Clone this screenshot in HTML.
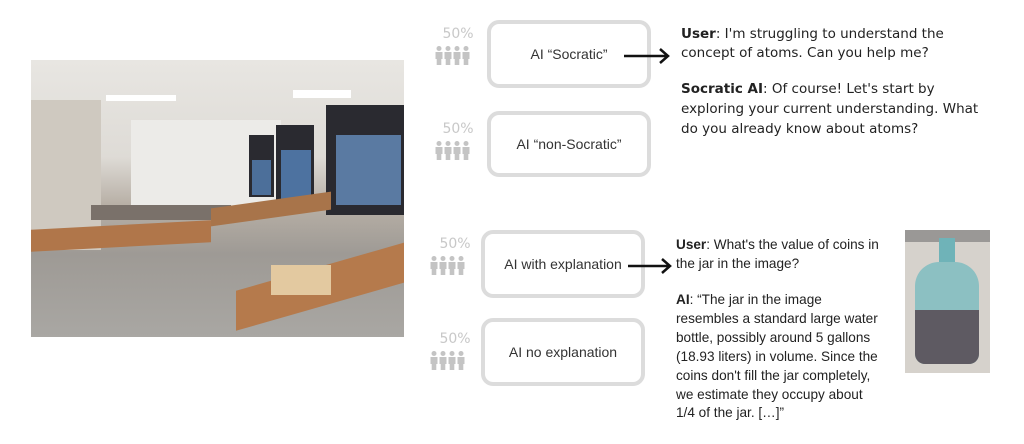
<!DOCTYPE html>
<html><head><meta charset="utf-8"><style>
body{margin:0;width:1024px;height:444px;background:#fff;position:relative;overflow:hidden;font-family:"DejaVu Sans","Liberation Sans",sans-serif;color:#222}
.box{position:absolute;border:4px solid #dcdcdc;border-radius:12px;box-sizing:border-box;display:flex;align-items:center;justify-content:center;font-size:14px;color:#333;font-family:"Liberation Sans",sans-serif}
.pct{position:absolute;font-size:14px;color:#c8c8c8;width:36px;text-align:center}
.ppl{position:absolute}
.t{position:absolute;font-size:13.5px;line-height:19px;color:#222;white-space:nowrap}
.l{font-family:"Liberation Sans",sans-serif;font-size:13.6px;line-height:18.9px}
b{font-weight:bold}
</style></head><body>
<div style="position:absolute;left:31px;top:60px;width:373px;height:277px;overflow:hidden;background:linear-gradient(#e8e6e2 0%,#dedbd6 35%,#b8b0a6 52%,#9e9a95 70%,#a9a7a3 100%)">
 <div style="position:absolute;left:0;top:40px;width:70px;height:150px;background:#cfc9c0"></div>
 <div style="position:absolute;left:100px;top:60px;width:150px;height:90px;background:#ecebe8"></div>
 <div style="position:absolute;left:218px;top:75px;width:25px;height:62px;background:#2a2a30"></div><div style="position:absolute;left:221px;top:100px;width:19px;height:35px;background:#4c6f9a"></div>
 <div style="position:absolute;left:245px;top:65px;width:38px;height:78px;background:#2a2a30"></div><div style="position:absolute;left:250px;top:90px;width:30px;height:50px;background:#4d72a0"></div>
 <div style="position:absolute;left:295px;top:45px;width:78px;height:110px;background:#2a2a30"></div><div style="position:absolute;left:305px;top:75px;width:65px;height:70px;background:#5a7aa2"></div>
 <div style="position:absolute;left:75px;top:35px;width:70px;height:6px;background:#fff"></div>
 <div style="position:absolute;left:262px;top:30px;width:58px;height:8px;background:#fff"></div>
 <div style="position:absolute;left:0;top:165px;width:180px;height:22px;background:#b0764a;transform:skewY(-3deg)"></div>
 <div style="position:absolute;left:60px;top:145px;width:140px;height:15px;background:#7a716a"></div>
 <div style="position:absolute;left:205px;top:205px;width:180px;height:40px;background:#b57a4c;transform:skewY(-16deg)"></div>
 <div style="position:absolute;left:240px;top:205px;width:60px;height:30px;background:#e3c9a0"></div>
 <div style="position:absolute;left:180px;top:140px;width:120px;height:18px;background:#a8744a;transform:skewY(-8deg)"></div>
</div>
<div class="box" style="left:487px;top:20px;width:164px;height:68px">AI “Socratic”</div>
<div class="box" style="left:487px;top:111px;width:164px;height:66px">AI “non-Socratic”</div>
<div class="box" style="left:481px;top:230px;width:164px;height:68px">AI with explanation</div>
<div class="box" style="left:481px;top:318px;width:164px;height:68px">AI no explanation</div>
<div class="pct" style="left:440px;top:26px">50%</div>
<div class="pct" style="left:440px;top:121px">50%</div>
<div class="pct" style="left:437px;top:236px">50%</div>
<div class="pct" style="left:437px;top:331px">50%</div>
<svg class="ppl" width="0" height="0"><defs><g id="p"><circle cx="4" cy="2.5" r="2.5" fill="#c4c4c4"/><path d="M0.5 6h7v7h-1.2v6h-4.6v-6h-1.2z" fill="#c4c4c4"/></g><g id="pp"><use href="#p" x="0"/><use href="#p" x="9"/><use href="#p" x="18"/><use href="#p" x="27"/></g></defs></svg>
<svg class="ppl" style="left:435px;top:46px" width="40" height="22"><use href="#pp"/></svg>
<svg class="ppl" style="left:435px;top:141px" width="40" height="22"><use href="#pp"/></svg>
<svg class="ppl" style="left:430px;top:256px" width="40" height="22"><use href="#pp"/></svg>
<svg class="ppl" style="left:430px;top:351px" width="40" height="22"><use href="#pp"/></svg>
<svg style="position:absolute;left:620px;top:46px" width="52" height="20"><path d="M4 10H48M40 3L48 10L40 17" stroke="#111" stroke-width="2.5" fill="none"/></svg>
<svg style="position:absolute;left:624px;top:256px" width="52" height="20"><path d="M4 10H46M38 3L46 10L38 17" stroke="#111" stroke-width="2.5" fill="none"/></svg>
<div class="t" style="left:681px;top:25px"><b>User</b>: I'm struggling to understand the<br>concept of atoms. Can you help me?</div>
<div class="t" style="left:681px;top:79px;line-height:20px"><b>Socratic AI</b>: Of course! Let's start by<br>exploring your current understanding. What<br>do you already know about atoms?</div>
<div class="t l" style="left:676px;top:236px"><b>User</b>: What's the value of coins in<br>the jar in the image?</div>
<div class="t l" style="left:676px;top:291px"><b>AI</b>: “The jar in the image<br>resembles a standard large water<br>bottle, possibly around 5 gallons<br>(18.93 liters) in volume. Since the<br>coins don't fill the jar completely,<br>we estimate they occupy about<br>1/4 of the jar. […]”</div>
<div style="position:absolute;left:905px;top:230px;width:85px;height:143px;background:#d6d2cc;overflow:hidden">
 <div style="position:absolute;left:0;top:0;width:85px;height:12px;background:#9a9896"></div>
 <div style="position:absolute;left:34px;top:8px;width:16px;height:28px;background:#6fb3b8"></div>
 <div style="position:absolute;left:10px;top:32px;width:64px;height:102px;border-radius:24px 24px 10px 10px;background:#8cc0c2"></div>
 <div style="position:absolute;left:10px;top:80px;width:64px;height:54px;border-radius:0 0 10px 10px;background:#5e5a62"></div>
</div>
</body></html>
